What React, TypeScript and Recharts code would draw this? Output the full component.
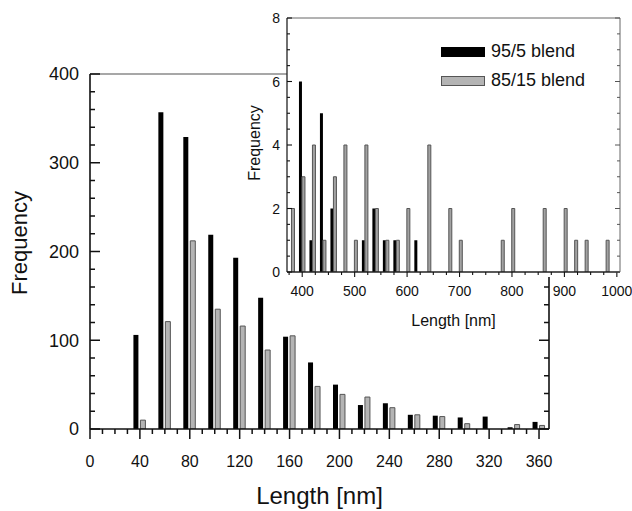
import React from 'react';
import { BarChart, Bar, XAxis, YAxis } from 'recharts';

// main histogram, 20 nm bins
const mainBins = [40, 60, 80, 100, 120, 140, 160, 180, 200, 220, 240, 260, 280, 300, 320, 340, 360];
const mainBlend95 = [106, 357, 329, 219, 193, 148, 104, 75, 50, 27, 29, 16, 15, 13, 14, 2, 8];
const mainBlend85 = [10, 121, 212, 135, 116, 89, 105, 48, 39, 36, 24, 16, 14, 6, 0, 5, 4];

// inset: long tail above 370 nm
const insetBins = [
  380, 400, 420, 440, 460, 480, 500, 520, 540, 560, 580, 600, 620, 640, 660, 680,
  700, 720, 740, 760, 780, 800, 820, 840, 860, 880, 900, 920, 940, 960, 980,
];
const insetBlend95 = [0, 6, 1, 5, 2, 0, 0, 1, 2, 1, 1, 0, 1, 0, 0, 0, 0, 0, 0, 0, 0, 0, 0, 0, 0, 0, 0, 0, 0, 0, 0];
const insetBlend85 = [2, 3, 4, 1, 3, 4, 1, 4, 2, 1, 1, 2, 0, 4, 0, 2, 1, 0, 0, 0, 1, 2, 0, 0, 2, 0, 2, 1, 1, 0, 1];

const mainXLabels = [0, 40, 80, 120, 160, 200, 240, 280, 320, 360];
const mainYLabels = [0, 100, 200, 300, 400];
const insetXLabels = [400, 500, 600, 700, 800, 900, 1000];
const insetYLabels = [0, 2, 4, 6, 8];

const seriesNames = { blend95: '95/5 blend', blend85: '85/15 blend' };

const FONT = 'Liberation Sans, Arial, Helvetica, sans-serif';
const GRAY_FILL = '#b4b4b4';
const GRAY_EDGE = '#555';
const INSET_GRAY = '#a2a2a2';

const steps = (from: number, to: number, step: number) => {
  const out: number[] = [];
  for (let v = from; v <= to + 1e-9; v += step) out.push(Math.round(v * 1000) / 1000);
  return out;
};

const mainData = mainBins.map((len, i) => ({ len, blend95: mainBlend95[i], blend85: mainBlend85[i] }));
const insetData = insetBins.map((len, i) => ({ len, blend95: insetBlend95[i], blend85: insetBlend85[i] }));

type Side = 'bottom' | 'top' | 'left' | 'right';
type TickOpts = {
  major: number;
  minor: number;
  color?: string;
  width?: number;
  fontSize?: number;
  gap?: number;
};

// tick marks: majors get a longer stroke and (optionally) a label
function makeTick(side: Side, majors: number[] | null, opts: TickOpts) {
  const color = opts.color ?? '#111';
  const width = opts.width ?? 1.5;
  return (props: any) => {
    const { x, y, payload } = props;
    const v = payload.value as number;
    const isMajor = majors ? majors.some((m) => Math.abs(m - v) < 1e-6) : false;
    const len = isMajor ? opts.major : opts.minor;
    let x2 = x;
    let y2 = y;
    if (side === 'bottom') y2 = y + len;
    if (side === 'top') y2 = y - len;
    if (side === 'left') x2 = x + len;
    if (side === 'right') x2 = x - len;
    let label = null;
    if (isMajor && opts.fontSize) {
      if (side === 'bottom') {
        label = (
          <text x={x} y={y + (opts.gap ?? 20)} textAnchor="middle" fontSize={opts.fontSize} fontFamily={FONT} fill="#111">
            {v}
          </text>
        );
      } else if (side === 'left') {
        label = (
          <text x={x - (opts.gap ?? 8)} y={y} dy="0.36em" textAnchor="end" fontSize={opts.fontSize} fontFamily={FONT} fill="#111">
            {v}
          </text>
        );
      }
    }
    return (
      <g>
        <line x1={x} y1={y} x2={x2} y2={y2} stroke={color} strokeWidth={width} />
        {label}
      </g>
    );
  };
}

const axisTitle = (text: string, fontSize: number, place: (vb: any) => { x: number; y: number; rotate?: boolean }) =>
  (props: any) => {
    const p = place(props.viewBox);
    return (
      <text
        x={p.x}
        y={p.y}
        textAnchor="middle"
        fontSize={fontSize}
        fontFamily={FONT}
        fill="#111"
        transform={p.rotate ? `rotate(-90 ${p.x} ${p.y})` : undefined}
      >
        {text}
      </text>
    );
  };

function InsetLegend() {
  const rows = [
    { key: 'blend95', fill: '#000', edge: '#000' },
    { key: 'blend85', fill: GRAY_FILL, edge: GRAY_EDGE },
  ] as const;
  return (
    <div style={{ position: 'absolute', left: 441, top: 37, fontFamily: FONT, fontSize: 18, color: '#111' }}>
      {rows.map((r) => (
        <div key={r.key} style={{ display: 'flex', alignItems: 'center', height: 29 }}>
          <div
            style={{
              width: 44,
              height: 10,
              background: r.fill,
              border: `1px solid ${r.edge}`,
              boxSizing: 'border-box',
              marginRight: 6,
            }}
          />
          <span style={{ whiteSpace: 'nowrap' }}>{seriesNames[r.key]}</span>
        </div>
      ))}
    </div>
  );
}

export default function App() {
  return (
    <div style={{ position: 'absolute', left: 0, top: 0, width: 632, height: 511, background: '#fff', overflow: 'hidden' }}>
      {/* main histogram */}
      <div style={{ position: 'absolute', left: 0, top: 0 }}>
        <BarChart
          width={632}
          height={511}
          data={mainData}
          margin={{ top: 73, right: 82, bottom: 0, left: 0 }}
          barGap={2}
        >
          <XAxis
            dataKey="len"
            type="number"
            domain={[0, 368]}
            allowDataOverflow
            ticks={steps(0, 360, 10)}
            interval={0}
            height={82}
            tickSize={0}
            tickMargin={0}
            tickLine={false}
            axisLine={{ stroke: '#111', strokeWidth: 1.6 }}
            tick={makeTick('bottom', mainXLabels, { major: 10, minor: 5, fontSize: 16, gap: 38 })}
            label={axisTitle('Length [nm]', 24, (vb) => ({ x: vb.x + vb.width / 2, y: vb.y + 75 }))}
          />
          <XAxis
            xAxisId="top"
            orientation="top"
            type="number"
            domain={[0, 368]}
            allowDataOverflow
            height={1}
            tick={false}
            tickLine={false}
            axisLine={{ stroke: '#8a8a8a', strokeWidth: 1.5 }}
          />
          <YAxis
            type="number"
            domain={[0, 400]}
            allowDataOverflow
            ticks={steps(0, 400, 20)}
            interval={0}
            width={90}
            tickSize={0}
            tickMargin={0}
            tickLine={false}
            axisLine={{ stroke: '#111', strokeWidth: 1.6 }}
            tick={makeTick('left', mainYLabels, { major: 10, minor: 5, fontSize: 18, gap: 11 })}
            label={axisTitle('Frequency', 22, (vb) => ({ x: 27, y: vb.y + 169, rotate: true }))}
          />
          <YAxis
            yAxisId="right"
            orientation="right"
            type="number"
            domain={[0, 400]}
            allowDataOverflow
            ticks={steps(0, 400, 20)}
            interval={0}
            width={1}
            tickSize={0}
            tickMargin={0}
            tickLine={false}
            axisLine={{ stroke: '#111', strokeWidth: 1.6 }}
            tick={makeTick('right', mainYLabels, { major: 10, minor: 5 })}
          />
          <Bar dataKey="blend95" name={seriesNames.blend95} fill="#000" barSize={5} isAnimationActive={false} />
          <Bar
            dataKey="blend85"
            name={seriesNames.blend85}
            fill={GRAY_FILL}
            stroke={GRAY_EDGE}
            strokeWidth={1}
            barSize={5}
            isAnimationActive={false}
          />
        </BarChart>
      </div>

      {/* inset plot area background */}
      <div style={{ position: 'absolute', left: 287, top: 18, width: 333, height: 259, background: '#fff' }} />

      {/* inset: 370 - 1000 nm */}
      <div style={{ position: 'absolute', left: 0, top: 0 }}>
        <BarChart
          width={632}
          height={340}
          data={insetData}
          margin={{ top: 17, right: 11, bottom: 0, left: 0 }}
          barGap={0}
        >
          <XAxis
            dataKey="len"
            type="number"
            domain={[371, 1006]}
            allowDataOverflow
            ticks={steps(375, 1000, 25)}
            interval={0}
            height={68}
            tickSize={0}
            tickMargin={0}
            tickLine={false}
            axisLine={{ stroke: '#222', strokeWidth: 1.3 }}
            tick={makeTick('bottom', insetXLabels, { major: 5, minor: 3, width: 1.1, fontSize: 14, gap: 24 })}
            label={axisTitle('Length [nm]', 16, (vb) => ({ x: vb.x + vb.width / 2, y: vb.y + 54 }))}
          />
          <XAxis
            xAxisId="top"
            orientation="top"
            type="number"
            domain={[371, 1006]}
            allowDataOverflow
            ticks={steps(375, 1000, 25)}
            interval={0}
            height={1}
            tickSize={0}
            tickMargin={0}
            tickLine={false}
            axisLine={{ stroke: '#666', strokeWidth: 1 }}
            tick={makeTick('top', insetXLabels, { major: 5, minor: 2.5, color: '#555', width: 1 })}
          />
          <YAxis
            type="number"
            domain={[0, 8]}
            allowDataOverflow
            ticks={steps(0, 8, 0.5)}
            interval={0}
            width={287}
            tickSize={0}
            tickMargin={0}
            tickLine={false}
            axisLine={{ stroke: '#222', strokeWidth: 1.3 }}
            tick={makeTick('left', insetYLabels, { major: 5, minor: 3, width: 1.1, fontSize: 14, gap: 7 })}
            label={axisTitle('Frequency', 16, (vb) => ({ x: 260, y: vb.y + 125, rotate: true }))}
          />
          <YAxis
            yAxisId="right"
            orientation="right"
            type="number"
            domain={[0, 8]}
            allowDataOverflow
            ticks={steps(0, 8, 0.5)}
            interval={0}
            width={1}
            tickSize={0}
            tickMargin={0}
            tickLine={false}
            axisLine={{ stroke: '#666', strokeWidth: 1 }}
            tick={makeTick('right', insetYLabels, { major: 5, minor: 3, color: '#555', width: 1 })}
          />
          <Bar dataKey="blend95" name={seriesNames.blend95} fill="#000" barSize={3} isAnimationActive={false} />
          <Bar
            dataKey="blend85"
            name={seriesNames.blend85}
            fill={INSET_GRAY}
            stroke={GRAY_EDGE}
            strokeWidth={1}
            barSize={3}
            isAnimationActive={false}
          />
        </BarChart>
      </div>

      <InsetLegend />
    </div>
  );
}
